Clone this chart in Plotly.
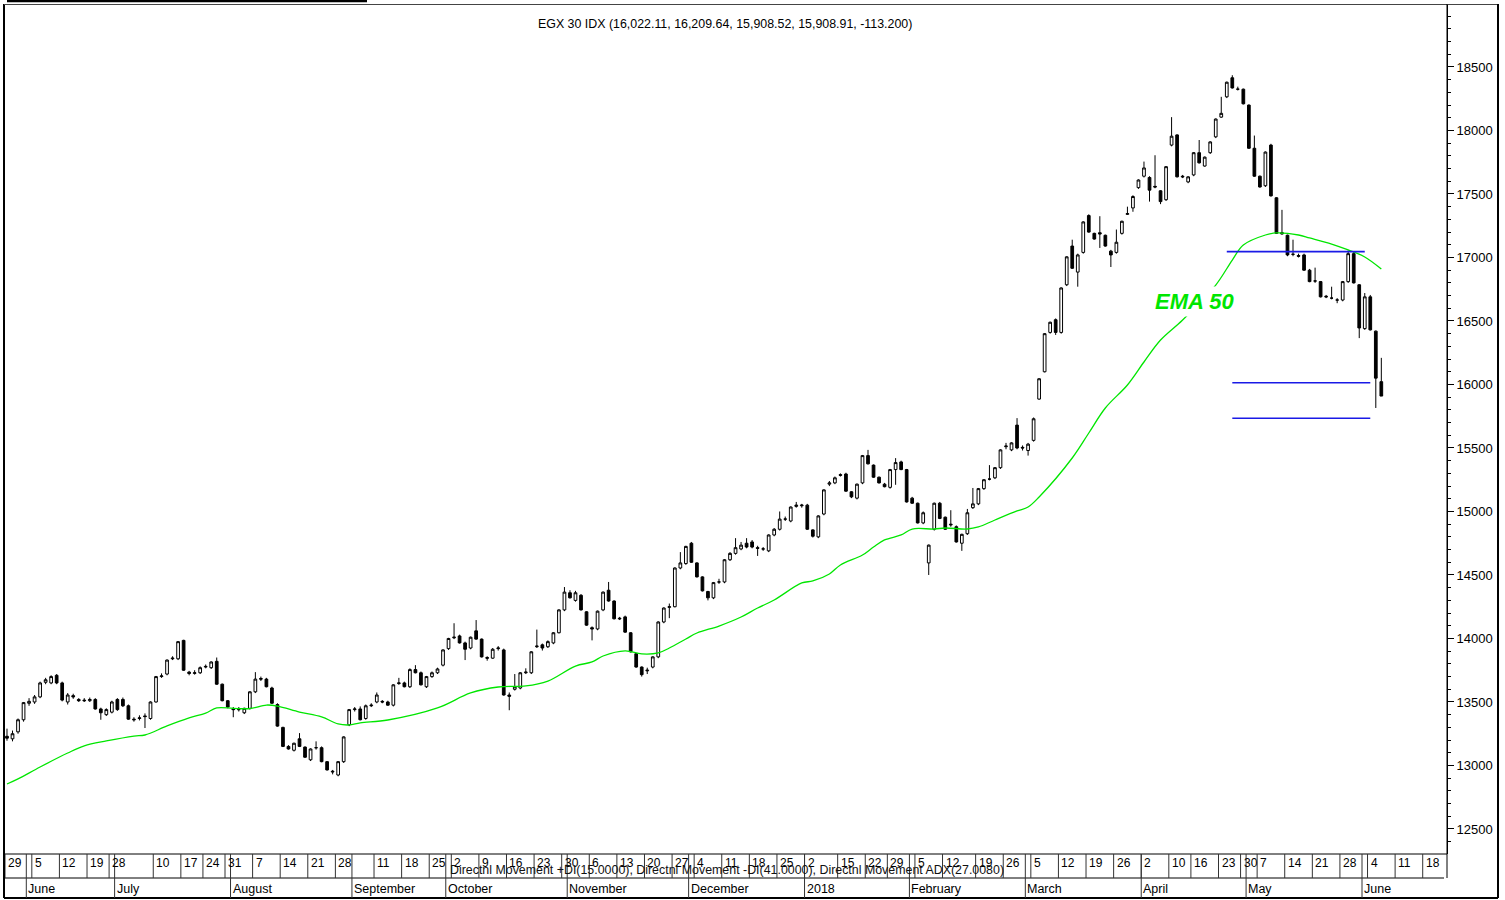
import plotly.graph_objects as go

# ---------------- data ----------------
opens = [13230,13210,13265,13360,13490,13500,13540,13655,13650,13710,
         13650,13500,13550,13520,13515,13510,13520,13445,13400,13420,
         13520,13520,13470,13365,13370,13390,13370,13500,13700,13720,
         13840,13840,13985,13735,13725,13730,13775,13770,13820,13640,
         13510,13445,13440,13415,13450,13580,13685,13680,13610,13480,
         13300,13150,13120,13210,13145,13045,13140,13140,13030,12955,
         12925,13030,13320,13440,13445,
         13370,13470,13500,13505,13500,13475,13645,13650,13620,13755,
         13730,13620,13700,13730,13790,13920,14005,14020,13965,13925,
         14060,13995,13850,13845,13920,13910,13555,13600,13610,13730,
         13730,13935,13950,13935,13965,14045,14225,14360,14300,14340,
         14210,14085,14075,14225,14380,14295,14160,14170,14045,13880,
         13775,13745,13775,13855,14130,14245,14250,14555,
         14590,14750,14595,14485,14370,14320,14445,14445,14620,14670,
         14705,14750,14760,14715,14705,14690,14815,14860,14940,14925,
         15040,15045,15050,14855,14800,14980,15215,15225,15290,15295,
         15155,15105,15225,15440,15365,15270,15215,15190,15330,15390,
         15330,15105,15065,14910,14595,14860,15065,14955,14900,14880,
         14750,14825,15030,15060,15180,15255,15265,15345,15510,15485,
         15680,15505,15480,15560,15885,16100,16410,16510,16410,16785,
         17090,16885,17040,17330,17190,17195,17175,17050,17040,17190,
         17340,17390,17550,17640,17630,17560,17525,17455,17885,17965,
         17640,17595,17650,17825,17720,17825,17950,18105,18265,18415,
         18325,18325,18200,17860,17640,17565,17885,17470,17185,17175,
         17025,17015,17020,16900,16815,16810,16695,16680,16665,16665,
         16810,17030,16785,16440,16690,16420,16022.11]

highs = [13290,13275,13370,13500,13530,13555,13660,13690,13710,13720,
         13660,13570,13565,13530,13530,13535,13530,13455,13450,13510,
         13530,13535,13480,13380,13395,13410,13505,13705,13725,13835,
         13860,13980,13990,13745,13750,13780,13795,13820,13850,13645,
         13515,13460,13460,13455,13585,13735,13700,13690,13620,13490,
         13305,13160,13180,13255,13150,13135,13190,13150,13035,12965,
         13035,13230,13445,13460,13465,
         13480,13490,13575,13515,13510,13640,13690,13660,13765,13790,
         13740,13705,13740,13770,13915,14005,14120,14030,13975,14015,
         14145,14000,13860,13925,13940,13920,13575,13720,13735,13765,
         13900,14070,13960,13985,14050,14230,14405,14380,14375,14350,
         14215,14095,14220,14370,14445,14300,14170,14180,14050,13885,
         13780,13770,13860,14135,14245,14275,14560,14680,
         14730,14760,14600,14490,14375,14445,14470,14625,14680,14790,
         14760,14790,14775,14730,14720,14820,14870,15000,14960,15040,
         15075,15060,15060,14860,14970,15175,15240,15275,15300,15305,
         15160,15220,15445,15485,15370,15275,15225,15335,15420,15400,
         15335,15115,15070,15000,14740,15070,15075,14960,15010,14890,
         14825,15020,15185,15185,15255,15365,15350,15490,15540,15545,
         15735,15520,15540,15740,16050,16405,16495,16520,16765,17010,
         17140,17030,17285,17340,17195,17325,17180,17060,17220,17290,
         17400,17490,17615,17755,17640,17805,17530,17720,18105,17970,
         17650,17640,17830,17925,17795,17915,18095,18265,18385,18435,
         18345,18330,18205,17960,17645,17835,17895,17475,17375,17180,
         17140,17030,17030,16910,16920,16815,16705,16770,16680,16815,
         17055,17050,16790,16720,16705,16425,16209.64]

lows = [13195,13190,13250,13345,13470,13485,13530,13640,13640,13640,
        13505,13480,13525,13500,13500,13500,13440,13360,13390,13410,
        13430,13460,13360,13345,13355,13295,13360,13495,13690,13710,
        13830,13830,13745,13710,13715,13720,13765,13760,13635,13505,
        13450,13380,13425,13405,13440,13570,13665,13615,13485,13305,
        13145,13125,13110,13145,13060,13035,13125,13025,12960,12930,
        12915,13020,13310,13425,13355,
        13360,13460,13490,13490,13470,13465,13635,13615,13610,13725,
        13630,13610,13690,13720,13780,13910,13995,13960,13830,13915,
        13990,13850,13825,13840,13905,13550,13435,13590,13600,13720,
        13720,13925,13905,13925,13955,14040,14215,14315,14290,14220,
        14100,13985,14065,14215,14290,14150,14145,14045,13890,13770,
        13700,13720,13765,13845,14120,14160,14245,14545,
        14580,14595,14480,14370,14300,14310,14430,14435,14610,14660,
        14695,14710,14710,14650,14690,14680,14805,14850,14925,14915,
        15030,15030,14855,14795,14790,14970,15200,15215,15275,15155,
        15105,15095,15215,15370,15265,15220,15190,15180,15210,15325,
        15070,15060,14905,14900,14500,14850,14940,14855,14880,14755,
        14690,14815,15020,15050,15170,15245,15255,15335,15490,15475,
        15490,15480,15440,15550,15880,16095,16400,16390,16400,16775,
        16910,16770,17030,17195,17140,17075,17085,16925,17030,17180,
        17335,17360,17540,17630,17440,17545,17420,17445,17875,17630,
        17625,17585,17640,17740,17715,17815,17940,18100,18255,18330,
        18315,18205,17855,17635,17550,17555,17480,17185,17180,17010,
        17010,17000,16895,16805,16800,16685,16680,16670,16640,16655,
        16800,16795,16365,16430,16425,15815,15908.52]

closes = [13215,13250,13360,13495,13505,13540,13650,13675,13700,13650,
          13515,13555,13540,13510,13510,13520,13445,13415,13440,13500,
          13440,13470,13365,13360,13375,13385,13500,13700,13705,13830,
          13845,13975,13750,13725,13730,13770,13780,13815,13640,13510,
          13460,13440,13440,13450,13580,13680,13680,13620,13490,13310,
          13150,13130,13175,13150,13065,13130,13140,13030,12965,12950,
          13030,13225,13440,13445,13360,
          13470,13475,13555,13500,13475,13635,13650,13620,13755,13730,
          13635,13700,13730,13760,13910,14000,14010,13965,13915,14010,
          13995,13855,13845,13915,13925,13555,13545,13620,13730,13735,
          13895,13940,13925,13975,14045,14225,14365,14320,14360,14225,
          14105,14075,14215,14365,14295,14155,14155,14050,13895,13775,
          13715,13750,13855,14130,14240,14250,14555,14595,
          14725,14600,14485,14375,14320,14440,14445,14620,14670,14715,
          14735,14720,14720,14710,14705,14815,14860,14940,14940,15035,
          15050,15050,14860,14805,14965,15170,15225,15265,15285,15160,
          15115,15215,15440,15375,15270,15225,15195,15330,15385,15330,
          15075,15065,14910,14990,14735,15065,14945,14860,14895,14760,
          14820,14990,15060,15180,15250,15255,15345,15485,15515,15540,
          15500,15500,15530,15730,16045,16400,16490,16410,16760,17005,
          16915,17020,17280,17200,17145,17185,17090,17020,17120,17285,
          17345,17480,17610,17705,17530,17555,17440,17715,17955,17635,
          17635,17635,17825,17745,17790,17910,18090,18135,18380,18335,
          18325,18210,17860,17640,17555,17830,17485,17190,17195,17020,
          17025,17010,16900,16810,16815,16690,16690,16680,16665,16810,
          17030,16800,16445,16690,16430,16050,15908.91]

days = list(range(len(closes)))   # trading-day index

# EMA(50) at selected trading days
ema_day = [0,2,6,11,14,18,23,25,29,33,36,38,41,44,47,49,53,57,60,62,64,69,78,84,89,94,98,
           103,106,108,112,115,118,120,123,125,129,133,136,139,144,146,149,151,155,157,159,
           162,164,168,170,174,176,179,183,185,187,193,196,199,203,206,209,213,219,222,224,
           228,230,234,236,240,243,246,249]
ema_val = [12854,12894,12988,13098,13154,13193,13232,13240,13311,13374,13413,13453,13450,13448,
           13476,13468,13421,13382,13327,13319,13335,13358,13453,13571,13618,13626,13665,
           13783,13815,13862,13902,13878,13886,13925,13996,14043,14098,14169,14240,14303,14437,
           14453,14508,14579,14657,14720,14776,14815,14862,14862,14870,14862,14878,14933,15004,
           15035,15114,15421,15618,15815,15996,16177,16350,16508,16783,16980,17098,17177,17193,
           17177,17154,17106,17059,17004,16909]

# horizontal levels (blue)
level_val = [17046, 16014, 15734]
level_from = [221, 222, 222]
level_to = [246, 247, 247]

# date axis: first trading-day index of each labelled week and its label
week_start = [0,5,10,15,19,27,32,36,40,45,50,55,60,67,72,77,81,86,91,96,101,106,111,116,121,
              125,130,135,140,145,151,156,160,165,170,176,181,186,191,196,201,206,211,215,220,
              224,227,232,237,242,247,252,257]
week_label = ["29","5","12","19","28","10","17","24","31","7","14","21","28","11","18","25",
              "2","9","16","23","30","6","13","20","27","4","11","18","25","2","15","22","29",
              "5","12","19","26","5","12","19","26","2","10","16","23","30","7","14","21","28",
              "4","11","18"]
month_start = [4,20,41,63,80,102,124,145,164,185,206,225,246]
month_label = ["June","July","August","September","October","November","December","2018",
               "February","March","April","May","June"]

title_text = "EGX 30 IDX (16,022.11, 16,209.64, 15,908.52, 15,908.91, -113.200)"
indicator_text = ("Directnl Movement +DI(15.0000), Directnl Movement -DI(41.0000), "
                  "Directnl Movement ADX(27.0080)")
ema_label = "EMA 50"

# ---------------- layout geometry ----------------
W, H = 1505, 900
L, R, T, B = 5, 1447, 5, 854
XMIN, XMAX = -0.36, 260.9
FONT = "Liberation Sans Narrow, Arial Narrow, Liberation Sans, Arial, sans-serif"


def pxx(px):
    return (px - L) / (R - L)


def pxy(py):
    return (B - py) / (B - T)


fig = go.Figure()
fig.add_trace(go.Candlestick(
    x=days, open=opens, high=highs, low=lows, close=closes,
    increasing=dict(line=dict(color="black", width=1), fillcolor="white"),
    decreasing=dict(line=dict(color="black", width=1), fillcolor="black"),
    whiskerwidth=0, showlegend=False, hoverinfo="skip"))

fig.add_trace(go.Scatter(x=ema_day, y=ema_val, mode="lines",
                         line=dict(color="#00e600", width=1.3, shape="spline"),
                         showlegend=False, hoverinfo="skip"))

for v, a, b in zip(level_val, level_from, level_to):
    fig.add_trace(go.Scatter(x=[a, b], y=[v, v], mode="lines",
                             line=dict(color="#1a1ae6", width=1.6),
                             showlegend=False, hoverinfo="skip"))

shapes = []
def pline(x0, y0, x1, y1, w=1, c="black"):
    shapes.append(dict(type="line", xref="paper", yref="paper",
                       x0=pxx(x0), y0=pxy(y0), x1=pxx(x1), y1=pxy(y1),
                       line=dict(color=c, width=w)))

# frame
shapes.append(dict(type="rect", xref="paper", yref="paper", x0=pxx(7), x1=pxx(367),
                   y0=pxy(0), y1=pxy(2.2), fillcolor="black", line=dict(width=0)))
pline(4, 4, 4, 898, 2)
pline(4, 4.5, 1498, 4.5, 1, "#444")
pline(1498, 4, 1498, 898, 2)
pline(4, 898, 1498, 898, 2)
pline(1447, 4, 1447, 878, 1)
pline(4, 854, 1447, 854, 1)
pline(4, 878, 1444, 878, 1)

for s in week_start:
    xs = max(s - 0.5, XMIN)
    shapes.append(dict(type="line", xref="x", yref="paper", x0=xs, x1=xs,
                       y0=pxy(854), y1=pxy(878), line=dict(color="#333", width=1)))
for m in month_start:
    shapes.append(dict(type="line", xref="x", yref="paper", x0=m - 0.5, x1=m - 0.5,
                       y0=pxy(854), y1=pxy(898), line=dict(color="#333", width=1)))

annotations = []
for s, t in zip(week_start, week_label):
    annotations.append(dict(x=max(s - 0.5, XMIN), y=pxy(863), xref="x", yref="paper", text=t,
                            showarrow=False, xanchor="left", yanchor="middle", xshift=1,
                            font=dict(family=FONT, size=12, color="black")))
for m, t in zip(month_start, month_label):
    annotations.append(dict(x=m - 0.5, y=pxy(889), xref="x", yref="paper", text=t,
                            showarrow=False, xanchor="left", yanchor="middle", xshift=0,
                            font=dict(family=FONT, size=12.5, color="black")))

annotations.append(dict(x=pxx(725), y=pxy(24), xref="paper", yref="paper", text=title_text,
                        showarrow=False, xanchor="center", yanchor="middle",
                        font=dict(family=FONT, size=12.4, color="black")))
annotations.append(dict(x=pxx(727), y=pxy(870), xref="paper", yref="paper", text=indicator_text,
                        showarrow=False, xanchor="center", yanchor="middle",
                        font=dict(family=FONT, size=12.4, color="#111")))
annotations.append(dict(x=215.2, y=16650, xref="x", yref="y", text=ema_label,
                        showarrow=False, xanchor="center", yanchor="middle",
                        bgcolor="white", borderpad=2,
                        font=dict(family=FONT, size=22, color="#00e600",
                                  weight="bold", style="italic")))

fig.update_layout(
    width=W, height=H,
    margin=dict(l=L, r=W - R, t=T, b=H - B, pad=0),
    paper_bgcolor="white", plot_bgcolor="white",
    shapes=shapes, annotations=annotations,
    showlegend=False,
    xaxis=dict(range=[XMIN, XMAX], showgrid=False, zeroline=False,
               showticklabels=False, ticks="", showline=False,
               rangeslider=dict(visible=False), fixedrange=True),
    yaxis=dict(range=[12303, 18988], side="right", showgrid=False, zeroline=False,
               tickvals=[12500,13000,13500,14000,14500,15000,15500,16000,16500,17000,17500,18000,18500],
               ticktext=["12500","13000","13500","14000","14500","15000","15500","16000",
                         "16500","17000","17500","18000","18500"],
               ticks="outside", ticklen=6, tickcolor="black", tickwidth=1,
               minor=dict(dtick=100, ticks="outside", ticklen=3, tickcolor="black", tickwidth=1),
               showline=True, linecolor="black", linewidth=1,
               tickfont=dict(family=FONT, size=13, color="black"),
               fixedrange=True),
)

fig.write_html("out.html")
